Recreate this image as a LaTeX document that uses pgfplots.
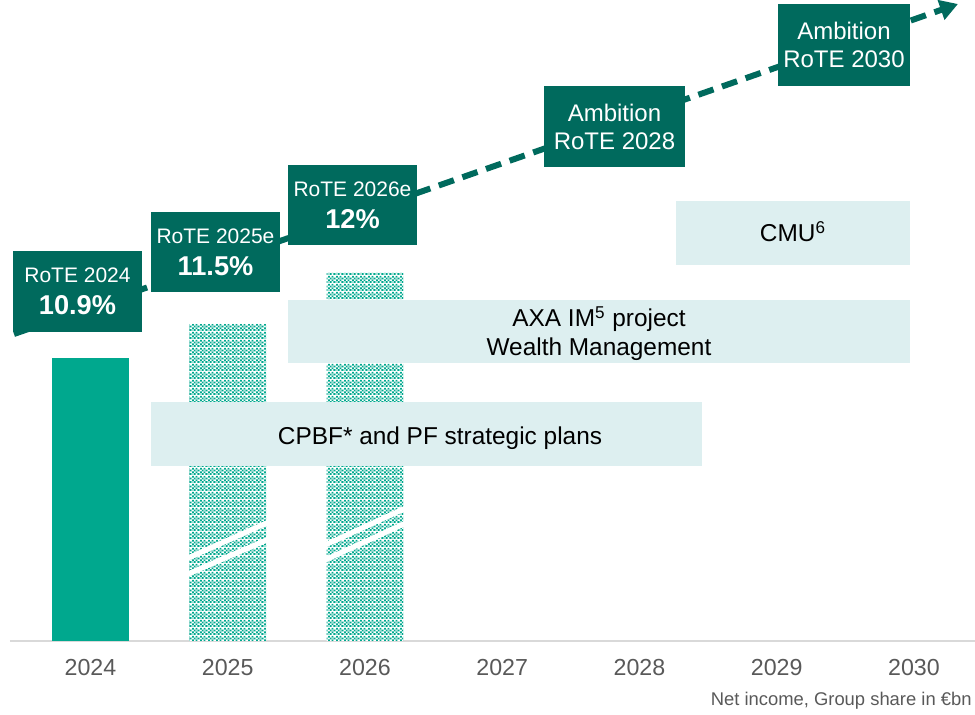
\documentclass[border=0pt]{standalone}
\usepackage{fontspec}
\setmainfont{Liberation Sans}
\usepackage{pgfplots}
\pgfplotsset{compat=1.18}
\usetikzlibrary{patterns.meta,arrows.meta}

\definecolor{darkteal}{RGB}{0,106,93}
\definecolor{barteal}{RGB}{0,168,142}
\definecolor{lightbox}{RGB}{221,239,240}
\definecolor{axisgrey}{RGB}{217,217,217}
\definecolor{ticktext}{RGB}{89,89,89}

\tikzdeclarepattern{
  name=tealmesh,
  type=colored,
  bounding box={(0pt,0pt) and (4pt,4pt)},
  tile size={(4pt,4pt)},
  code={
    \fill[white] (0pt,0pt) rectangle (4pt,4pt);
    \foreach \i/\j in {1/0,3/0,0/1,2/1,1/2,3/2,0/3,2/3}{
      \fill[barteal] (\i pt,\j pt) rectangle ++(1pt,1pt);
    }
    \foreach \i/\j in {0/0,2/2}{
      \fill[barteal!35] (\i pt,\j pt) rectangle ++(1pt,1pt);
    }
  }
}

\begin{document}
\begin{tikzpicture}
\path[use as bounding box] (0,0) rectangle (487.5pt,-357.5pt);
\begin{axis}[
  at={(5pt,-320.5pt)}, anchor=south west,
  scale only axis, width=482.5pt, height=320.5pt,
  xmin=-0.5865, xmax=6.4444, ymin=0, ymax=641,
  clip=false,
  axis x line=bottom, axis y line=none,
  x axis line style={draw=axisgrey, line width=1pt, -},
  xtick={0,1,2,3,4,5,6},
  xticklabels={2024,2025,2026,2027,2028,2029,2030},
  ytick=\empty,
  major tick length=0pt,
  xticklabel style={anchor=base, yshift=-17pt, font=\fontsize{11.6}{14}\selectfont, text=ticktext},
]
% net income bars (actual 2024, estimates 2025-2026)
\addplot[ybar, bar width=0.561, bar shift=0pt, fill=barteal, draw=none] coordinates {(0,283)};
\addplot[ybar, bar width=0.561, bar shift=0pt, draw=none, pattern=tealmesh] coordinates {(1,317) (2,368)};
% RoTE trajectory arrow
\addplot[darkteal, line width=3pt, dash pattern=on 8pt off 4.5pt, mark=none,
  -{Triangle[length=9pt,width=10pt]}] coordinates {(-0.5574,307) (6.3206,637)};
\end{axis}

\begin{scope}[x=0.5pt,y=-0.5pt]
% bar breaks
\draw[white, line width=2.6pt] (188,558) -- (269,522);
\draw[white, line width=2.6pt] (188,574) -- (269,539);
\draw[white, line width=2.6pt] (325,545) -- (406,508);
\draw[white, line width=2.6pt] (325,560) -- (406,523);

% light boxes
\fill[lightbox] (676,201) rectangle (910,265);
\node[anchor=base, font=\fontsize{12.2}{14}\selectfont] at (793,242) {CMU\textsuperscript{6}};
\fill[lightbox] (288,300) rectangle (910,363);
\node[anchor=base, font=\fontsize{12.2}{14}\selectfont] at (599,327) {AXA IM\textsuperscript{5} project};
\node[anchor=base, font=\fontsize{12.2}{14}\selectfont] at (599,356) {Wealth Management};
\fill[lightbox] (151,402) rectangle (702,466);
\node[anchor=base, font=\fontsize{12.2}{14}\selectfont] at (440,445) {CPBF* and PF strategic plans};

% dark boxes
\fill[darkteal] (13,251) rectangle (142,332);
\node[anchor=base, text=white, font=\fontsize{10.5}{12}\selectfont] at (77.5,283) {RoTE 2024};
\node[anchor=base, text=white, font=\fontsize{13.6}{16}\selectfont\bfseries] at (77.5,315) {10.9\%};

\fill[darkteal] (151,212) rectangle (280,292);
\node[anchor=base, text=white, font=\fontsize{10.5}{12}\selectfont] at (215.5,244) {RoTE 2025e};
\node[anchor=base, text=white, font=\fontsize{13.6}{16}\selectfont\bfseries] at (215.5,276) {11.5\%};

\fill[darkteal] (288,165) rectangle (417,245);
\node[anchor=base, text=white, font=\fontsize{10.5}{12}\selectfont] at (352.5,197) {RoTE 2026e};
\node[anchor=base, text=white, font=\fontsize{13.6}{16}\selectfont\bfseries] at (352.5,229) {12\%};

\fill[darkteal] (544,86) rectangle (685,167);
\node[anchor=base, text=white, font=\fontsize{12}{14}\selectfont] at (614.5,122) {Ambition};
\node[anchor=base, text=white, font=\fontsize{12}{14}\selectfont] at (614.5,150) {RoTE 2028};

\fill[darkteal] (778,4) rectangle (910,86);
\node[anchor=base, text=white, font=\fontsize{12}{14}\selectfont] at (844,40) {Ambition};
\node[anchor=base, text=white, font=\fontsize{12}{14}\selectfont] at (844,68) {RoTE 2030};

% footnote
\node[anchor=base east, inner sep=0pt, text=ticktext, font=\fontsize{9.2}{11}\selectfont] at (972,706) {Net income, Group share in €bn};
\end{scope}
\end{tikzpicture}
\end{document}
